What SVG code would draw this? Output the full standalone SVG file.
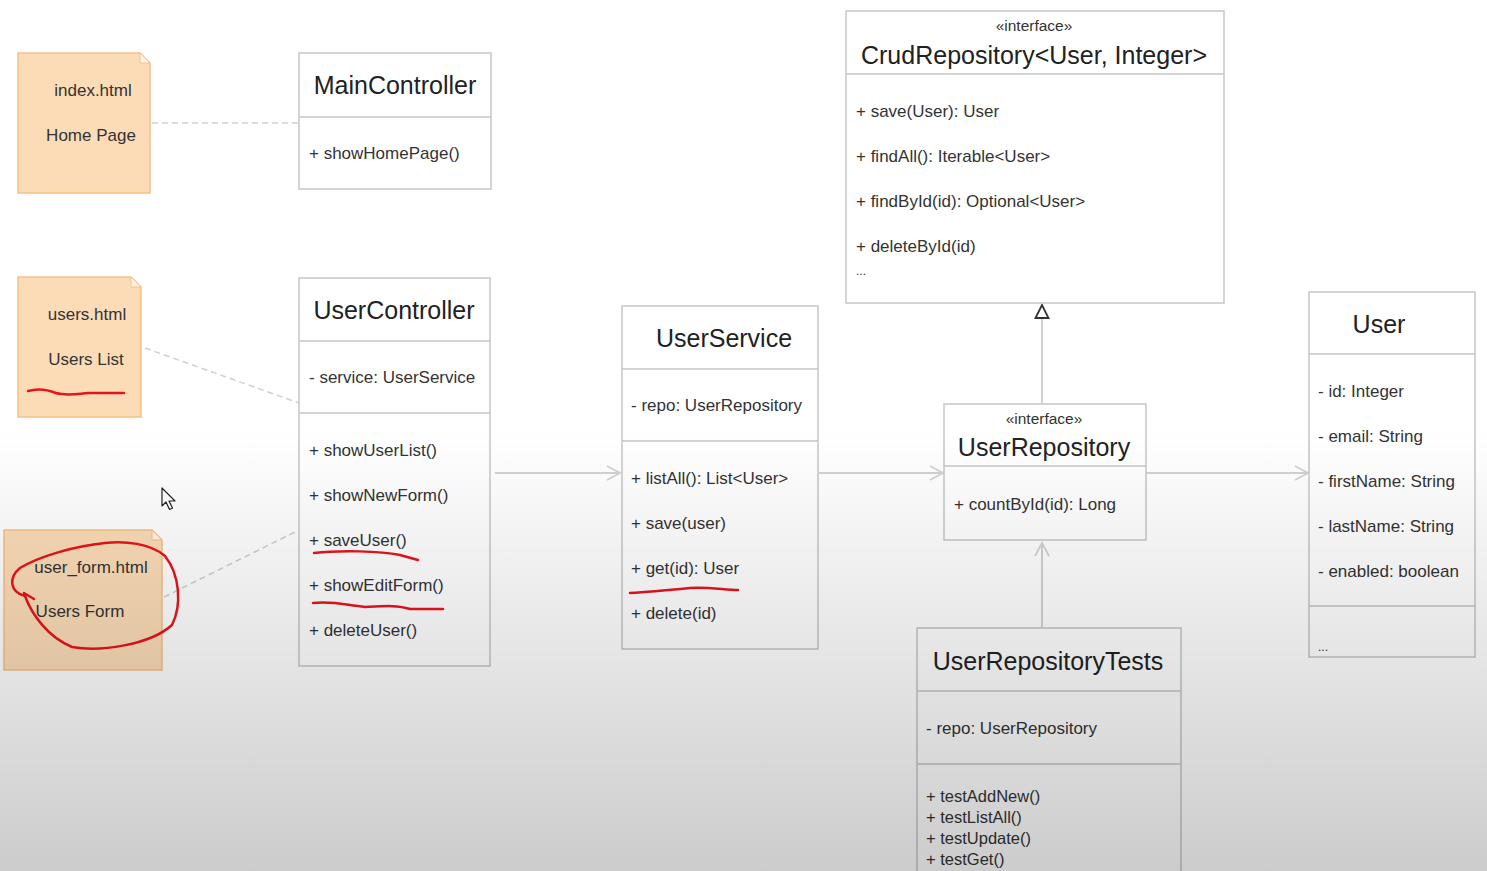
<svg xmlns="http://www.w3.org/2000/svg" width="1487" height="871" viewBox="0 0 1487 871">
<defs>
<style>
.box{fill:#ffffff;stroke:#c6c6c6;stroke-width:1.5}
.div{stroke:#c6c6c6;stroke-width:1.5;fill:none}
.note{fill:#fcdcb7;stroke:#f5c089;stroke-width:1.5}
.fold{fill:#fff4e8;stroke:#f5c089;stroke-width:1}
.t{font-family:"Liberation Sans",Arial,sans-serif;fill:#333333}
.title{font-size:25px;text-anchor:middle;fill:#222222}
.st{font-size:15.5px;text-anchor:middle}
.m{font-size:17px}
.mt{font-size:16.5px}
.n{font-size:17px;text-anchor:middle}
.dash{stroke:#cfcfcf;stroke-width:1.5;stroke-dasharray:6 4;fill:none}
.con{stroke:#d2d2d2;stroke-width:2;fill:none}
.red{stroke:#e8141b;stroke-width:2.5;fill:none;stroke-linecap:round;stroke-linejoin:round}
</style>
<marker id="open" markerWidth="16" markerHeight="16" refX="14" refY="8" orient="auto" markerUnits="userSpaceOnUse">
<path d="M1,1 L14,8 L1,15" fill="none" stroke="#d2d2d2" stroke-width="1.8"/>
</marker>
<marker id="tri" markerWidth="18" markerHeight="16" refX="15" refY="8" orient="auto" markerUnits="userSpaceOnUse">
<path d="M2,1.5 L15,8 L2,14.5 Z" fill="#ffffff" stroke="#333333" stroke-width="1.8"/>
</marker>
<linearGradient id="shade" gradientUnits="userSpaceOnUse" x1="0" y1="430" x2="0" y2="871">
<stop offset="0" stop-color="#000" stop-opacity="0"/>
<stop offset="1" stop-color="#000" stop-opacity="0.2"/>
</linearGradient>
</defs>
<rect x="0" y="0" width="1487" height="871" fill="#ffffff"/>

<g id="connectors">
<path class="dash" d="M152,123 L299,123"/>
<path class="dash" d="M145,348 L299,403"/>
<path class="dash" d="M164,597 L299,530"/>
<path class="con" d="M495,473 L620,473" marker-end="url(#open)"/>
<path class="con" d="M819,473 L943,473" marker-end="url(#open)"/>
<path class="con" d="M1140,473 L1308,473" marker-end="url(#open)"/>
<path class="con" d="M1042,404 L1042,305" marker-end="url(#tri)"/>
<path class="con" d="M1042,628 L1042,543" marker-end="url(#open)"/>
</g>

<g id="note-index">
<path class="note" d="M18,53 H140 L150,63 V193 H18 Z"/>
<path class="fold" d="M140,53 V63 H150 Z"/>
<text class="t n" x="93" y="96">index.html</text>
<text class="t n" x="91" y="141">Home Page</text>
</g>

<g id="note-users">
<path class="note" d="M18,277 H131 L141,287 V417 H18 Z"/>
<path class="fold" d="M131,277 V287 H141 Z"/>
<text class="t n" x="87" y="320">users.html</text>
<text class="t n" x="86" y="365">Users List</text>
</g>

<g id="note-userform">
<path class="note" d="M4,530 H152 L162,540 V670 H4 Z"/>
<path class="fold" d="M152,530 V540 H162 Z"/>
<text class="t n" x="91" y="573">user_form.html</text>
<text class="t n" x="80" y="617">Users Form</text>
</g>

<g id="MainController">
<rect class="box" x="299" y="53" width="192" height="136"/>
<line class="div" x1="299" y1="117" x2="491" y2="117"/>
<text class="t title" x="395" y="94">MainController</text>
<text class="t m" x="309" y="159">+ showHomePage()</text>
</g>

<g id="UserController">
<rect class="box" x="299" y="278" width="191" height="388"/>
<line class="div" x1="299" y1="341" x2="490" y2="341"/>
<line class="div" x1="299" y1="413" x2="490" y2="413"/>
<text class="t title" x="394" y="319">UserController</text>
<text class="t m" x="309" y="383">- service: UserService</text>
<text class="t m" x="309" y="456">+ showUserList()</text>
<text class="t m" x="309" y="501">+ showNewForm()</text>
<text class="t m" x="309" y="546">+ saveUser()</text>
<text class="t m" x="309" y="591">+ showEditForm()</text>
<text class="t m" x="309" y="636">+ deleteUser()</text>
</g>

<g id="UserService">
<rect class="box" x="622" y="306" width="196" height="343"/>
<line class="div" x1="622" y1="369" x2="818" y2="369"/>
<line class="div" x1="622" y1="441" x2="818" y2="441"/>
<text class="t title" x="724" y="347">UserService</text>
<text class="t m" x="631" y="411">- repo: UserRepository</text>
<text class="t m" x="631" y="484">+ listAll(): List&lt;User&gt;</text>
<text class="t m" x="631" y="529">+ save(user)</text>
<text class="t m" x="631" y="574">+ get(id): User</text>
<text class="t m" x="631" y="619">+ delete(id)</text>
</g>

<g id="CrudRepository">
<rect class="box" x="846" y="11" width="378" height="292"/>
<line class="div" x1="846" y1="74" x2="1224" y2="74"/>
<text class="t st" x="1034" y="31">«interface»</text>
<text class="t title" x="1034" y="64">CrudRepository&lt;User, Integer&gt;</text>
<text class="t m" x="856" y="117">+ save(User): User</text>
<text class="t m" x="856" y="162">+ findAll(): Iterable&lt;User&gt;</text>
<text class="t m" x="856" y="207">+ findById(id): Optional&lt;User&gt;</text>
<text class="t m" x="856" y="252">+ deleteById(id)</text>
<text class="t m" x="856" y="275" style="font-size:12px">...</text>
</g>

<g id="UserRepository">
<rect class="box" x="944" y="404" width="202" height="136"/>
<line class="div" x1="944" y1="466" x2="1146" y2="466"/>
<text class="t st" x="1044" y="424">«interface»</text>
<text class="t title" x="1044" y="456">UserRepository</text>
<text class="t m" x="954" y="510">+ countById(id): Long</text>
</g>

<g id="User">
<rect class="box" x="1309" y="292" width="166" height="365"/>
<line class="div" x1="1309" y1="354" x2="1475" y2="354"/>
<line class="div" x1="1309" y1="606" x2="1475" y2="606"/>
<text class="t title" x="1379" y="333">User</text>
<text class="t m" x="1318" y="397">- id: Integer</text>
<text class="t m" x="1318" y="442">- email: String</text>
<text class="t m" x="1318" y="487">- firstName: String</text>
<text class="t m" x="1318" y="532">- lastName: String</text>
<text class="t m" x="1318" y="577">- enabled: boolean</text>
<text class="t m" x="1318" y="651" style="font-size:12px">...</text>
</g>

<g id="UserRepositoryTests">
<rect class="box" x="917" y="628" width="264" height="260"/>
<line class="div" x1="917" y1="691" x2="1181" y2="691"/>
<line class="div" x1="917" y1="764" x2="1181" y2="764"/>
<text class="t title" x="1048" y="670">UserRepositoryTests</text>
<text class="t m" x="926" y="734">- repo: UserRepository</text>
<text class="t mt" x="926" y="802">+ testAddNew()</text>
<text class="t mt" x="926" y="823">+ testListAll()</text>
<text class="t mt" x="926" y="844">+ testUpdate()</text>
<text class="t mt" x="926" y="865">+ testGet()</text>
</g>

<g id="annotations">
<path class="red" d="M28,391 C38,388 46,389 56,393 C66,396 76,394 88,393 L124,393"/>
<path class="red" d="M25,596 C32,615 48,637 72,647 C100,652 150,645 172,625 C182,605 180,575 165,556 C150,543 125,541 105,543 C75,546 40,556 20,568 C8,578 10,592 25,596 M24,593 L34,599"/>
<path class="red" d="M314,553 C340,550 380,551 400,555 L418,560"/>
<path class="red" d="M313,603 C335,601 345,605 365,607 C385,606 398,605 410,609 L443,609"/>
<path class="red" d="M630,593 C650,592 670,590 690,588 C710,587 725,590 738,590"/>
</g>

<g id="cursor">
<path d="M162,488 L162,506 L166,502 L169.5,509.5 L172.5,508 L169,501 L175,501 Z" fill="#ffffff" stroke="#222222" stroke-width="1.2" stroke-linejoin="round"/>
</g>

<rect x="0" y="0" width="1487" height="871" fill="url(#shade)" pointer-events="none"/>
</svg>
